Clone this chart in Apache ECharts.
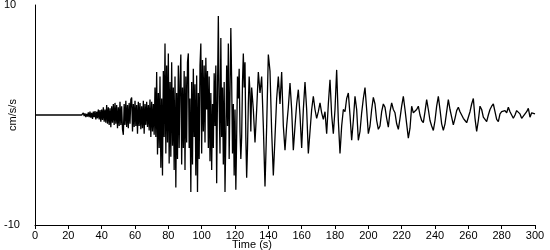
<!DOCTYPE html>
<html>
<head>
<meta charset="utf-8">
<script src="https://cdn.jsdelivr.net/npm/echarts@6/dist/echarts.min.js"></script>
<style>html,body{margin:0;padding:0;background:#fff}#c{width:550px;height:250px}</style>
</head>
<body>
<div id="c"></div>
<script>
// Quiet pre-event part (s)
var quietStart = 0, quietEnd = 28;
// Segment 1: 28 s .. 71.5 s, step 0.5 s (cm/s/s)
var seg1Start = 28, seg1Step = 0.5;
var seg1 = [0.1,-0.15,0.2,-0.1,0.15,-0.2,0.1,-0.15,0.25,-0.2,
0.3,-0.25,0.2,-0.35,0.3,-0.2,0.35,-0.4,0.3,-0.3,
0.5,-0.4,0.45,-0.6,0.5,-0.45,0.7,-0.6,0.5,-0.7,
0.9,-0.8,0.7,-0.9,0.6,-1.1,0.8,-0.7,1.0,-0.9,
1.1,-0.8,0.9,-1.2,0.7,-1.0,1.2,-0.9,0.8,-1.3,
-1.8,1.0,-0.9,1.3,-1.1,0.9,-1.2,1.1,-0.8,1.4,
1.6,-1.5,1.0,-1.1,1.3,-1.0,0.9,-1.7,1.2,-1.0,
1.1,-1.3,0.8,-1.2,1.3,-1.7,1.0,-0.9,1.2,-1.1,
0.9,-1.4,1.4,-2.0,1.2,-1.5,1.0,-1.8];
// Segment 2: 72 s .. 129.5 s, step 0.5 s
var seg2Start = 72, seg2Step = 0.5;
var seg2 = [2.5,-2.0,3.9,-3.6,2.0,-3.0,3.5,-4.8,1.5,-5.5,
4.0,-2.0,6.5,-3.5,4.5,-2.5,5.6,-4.4,3.0,-3.8,
4.8,-2.8,2.5,-5.0,3.5,-6.6,2.0,-4.0,4.5,-3.0,
3.0,5.5,-4.5,2.5,-3.0,4.0,-5.0,3.5,-2.5,4.8,
5.6,-3.0,1.5,-7.0,3.0,-4.5,4.2,-2.0,2.8,-5.5,
3.6,-7.0,2.0,-4.0,4.5,6.5,-3.5,5.0,-1.5,4.5,
-2.5,5.2,0.5,4.0,-3.0,3.5,-4.2,2.0,-5.0,1.0,
-3.0,3.8,-1.0,4.5,-6.2,2.0,9.0,1.0,-3.5,7.0,
-2.0,2.5,-4.5,3.0,-7.0,-2.0,4.5,-1.0,6.5,-4.0,
2.0,7.9,3.0,-3.5,1.0,-5.5,0.5,-6.8,-2.0,3.5,
1.5,4.2,-1.5,-4.0,-2.0,3.0,5.6,2.5,4.8,-2.0,
-5.7,-3.0,1.0,3.5,2.0,-1.5];
// Segment 3: 130 s .. 300 s, step 1 s
var seg3Start = 130, seg3Step = 1;
var seg3 = [2.5,0.5,-2.5,0.5,3.9,2.0,3.5,-1.0,-6.5,-1.0,
5.5,4.0,-1.5,-5.5,-2.0,1.5,3.5,1.0,3.9,-1.0,
-3.2,-1.0,0.7,2.9,0.5,-3.2,-1.0,1.0,2.3,0.0,
-3.0,0.5,3.0,0.5,-3.5,-1.5,0.5,1.7,0.5,-0.3,
0.3,1.1,0.2,-0.4,0.3,-1.7,1.0,3.2,0.0,-1.7,
0.5,4.1,-0.5,-3.5,-1.0,0.5,0.3,1.5,2.0,0.0,
-2.3,-0.5,1.7,0.5,-2.3,-1.5,0.2,1.5,2.5,0.5,
-1.7,-1.0,0.5,1.6,1.0,-0.5,-1.3,-1.0,0.3,1.0,
0.7,-0.3,-1.1,0.3,1.1,0.5,0.2,-0.8,-1.3,-0.3,
0.8,1.7,0.5,-0.8,-2.1,-1.2,0.8,0.2,0.3,0.5,
0.8,0.0,-0.5,-0.7,0.3,1.4,0.5,-0.5,-1.0,-1.4,
-0.5,0.8,1.7,0.5,-0.8,-1.4,-0.8,0.3,1.4,0.5,
-0.2,-0.9,-0.3,0.4,0.7,0.3,0.0,-0.3,-0.5,-0.7,
-0.2,0.3,1.0,1.5,-0.3,-1.5,-0.5,0.8,0.5,-0.2,
-0.3,-0.6,0.0,0.5,0.8,1.0,0.3,-0.4,-0.6,0.1,
0.3,0.2,0.4,0.2,0.7,0.3,0.0,-0.3,0.0,0.4,
0.5,0.1,-0.3,-0.1,0.1,0.3,0.6,-0.2,0.2,0.1,
0.1];
var xTicks = [0,20,40,60,80,100,120,140,160,180,200,220,240,260,280,300];
var yLabels = [-10, 10];

var data = [[quietStart, 0], [quietEnd, 0]];
function addSeg(start, step, vals) {
  for (var i = 0; i < vals.length; i++) data.push([start + i * step, vals[i]]);
}
addSeg(seg1Start, seg1Step, seg1);
addSeg(seg2Start, seg2Step, seg2);
addSeg(seg3Start, seg3Step, seg3);

var font = 'Liberation Sans, Arial, sans-serif';
var chart = echarts.init(document.getElementById('c'), null, {renderer: 'canvas'});
chart.setOption({
  animation: false,
  backgroundColor: '#fff',
  grid: {left: 35, right: 15, top: 5, bottom: 25, containLabel: false, outerBoundsMode: 'none'},
  xAxis: {
    type: 'value', min: xTicks[0], max: xTicks[xTicks.length - 1], interval: 20,
    name: 'Time (s)', nameLocation: 'middle', nameGap: 14, nameMoveOverlap: false,
    nameTextStyle: {color: '#000', fontFamily: font, fontSize: 11, padding: [0, 66, 0, 0]},
    axisLine: {onZero: false, lineStyle: {color: '#000', width: 1}},
    axisTick: {show: true, length: 4, lineStyle: {color: '#000'}},
    axisLabel: {color: '#000', fontFamily: font, fontSize: 11, margin: 5},
    splitLine: {show: false}
  },
  yAxis: {
    type: 'value', min: yLabels[0], max: yLabels[1], interval: 10,
    name: 'cm/s/s', nameLocation: 'middle', nameGap: 17, nameMoveOverlap: false,
    nameTextStyle: {color: '#000', fontFamily: font, fontSize: 11},
    axisLine: {show: true, lineStyle: {color: '#000', width: 1}},
    axisTick: {show: false},
    axisLabel: {color: '#000', fontFamily: font, fontSize: 11, margin: 31, align: 'left',
      formatter: function (v) { return yLabels.indexOf(v) >= 0 ? String(v) : ''; }},
    splitLine: {show: false}
  },
  series: [{
    type: 'line', data: data, showSymbol: false, symbol: 'none',
    lineStyle: {color: '#000', width: 1.3}, smooth: false
  }]
});
</script>
</body>
</html>
